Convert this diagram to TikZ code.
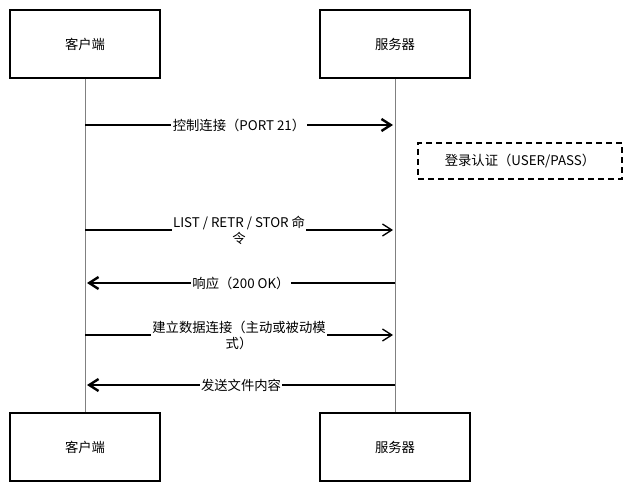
\documentclass[tikz,border=0pt]{standalone}
\usepackage{fontspec}
\setmainfont{Noto Sans CJK SC}
\usetikzlibrary{arrows.meta}
\tikzset{every picture/.style={line width=0.75pt}}
\tikzset{
  actor/.style={draw,line width=1.1pt,minimum width=112.5pt,minimum height=51pt,font=\fontsize{10}{12}\selectfont},
  msg/.style={line width=1.8pt,-{Straight Barb[length=7pt,width=9pt]}},
  msgthin/.style={line width=1pt,-{Straight Barb[length=7pt,width=9pt]}},
  lbl/.style={fill=white,inner sep=1pt,font=\fontsize{10}{12}\selectfont,align=center},
}
\begin{document}
\begin{tikzpicture}[x=0.75pt,y=0.75pt,yscale=-1,xscale=1]
\useasboundingbox (0,0) rectangle (630,491);

% Actors
\node [actor] (cTop) at (85,44) {客户端};
\node [actor] (sTop) at (395,44) {服务器};
\node [actor] (cBot) at (85,447) {客户端};
\node [actor] (sBot) at (395,447) {服务器};

% Lifelines
\draw [line width=0.4pt,gray] (cTop) -- (cBot);
\draw [line width=0.4pt,gray] (sTop) -- (sBot);

% Coordinates on lifelines
\coordinate (c1) at (85,125);  \coordinate (s1) at (393,125);
\coordinate (c3) at (85,230);  \coordinate (s3) at (393,230);
\coordinate (c4) at (87,283);  \coordinate (s4) at (395,283);
\coordinate (c5) at (85,335);  \coordinate (s5) at (393,335);
\coordinate (c6) at (87,385);  \coordinate (s6) at (395,385);

% Messages
\draw [msg] (c1) -- node [lbl] (m1) {控制连接（PORT 21）} (s1);
\draw [msgthin] (c3) -- node [lbl] (m3) {\textit{LIST / RETR / STOR} 命\\令} (s3);
\draw [msg] (s4) -- node [lbl] (m4) {响应（200 OK）} (c4);
\draw [msgthin] (c5) -- node [lbl] (m5) {建立数据连接（主动或被动模\\式）} (s5);
\draw [msg] (s6) -- node [lbl] (m6) {发送文件内容} (c6);

% Note
\node [draw,dash pattern={on 4.5pt off 3pt},line width=1.2pt,minimum width=153pt,minimum height=27pt,font=\fontsize{10}{12}\selectfont] (note) at (520,161) {登录认证（USER/PASS）};

\end{tikzpicture}
\end{document}
